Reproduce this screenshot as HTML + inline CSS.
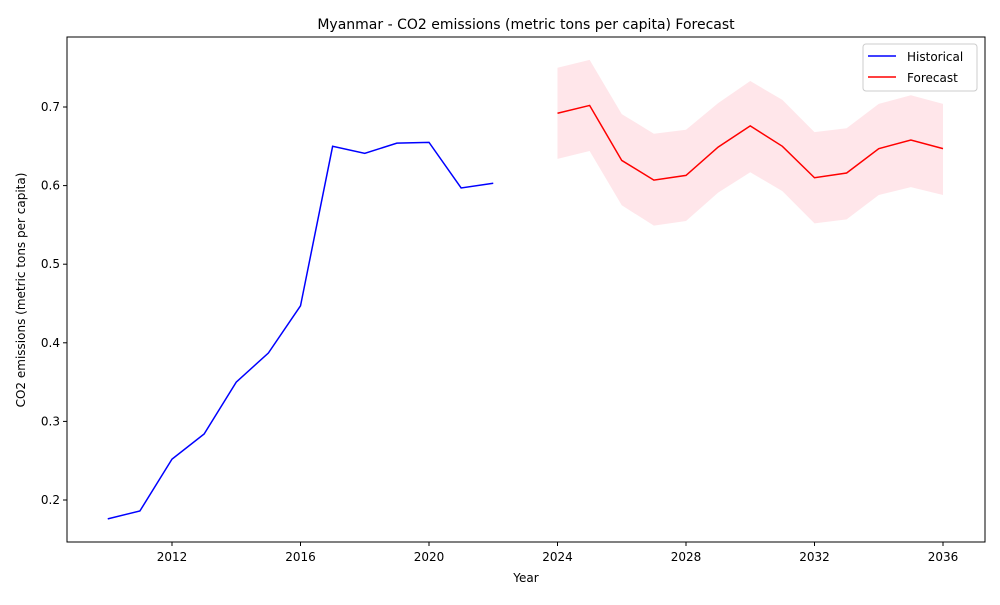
<!DOCTYPE html>
<html><head><meta charset="utf-8"><style>
body{margin:0;background:#fff;font-family:"Liberation Sans","DejaVu Sans",sans-serif}
svg text{font-family:"DejaVu Sans","Liberation Sans",sans-serif;fill:#000}
</style></head><body>
<svg id="chart" width="1000" height="600" xmlns="http://www.w3.org/2000/svg">
<rect width="1000" height="600" fill="#fff"/>
<g id="g"></g>
</svg>
<script>
const histYears=[2010,2011,2012,2013,2014,2015,2016,2017,2018,2019,2020,2021,2022];
const histValues=[0.176,0.186,0.252,0.284,0.350,0.387,0.447,0.650,0.641,0.654,0.655,0.597,0.603];
const fcYears=[2024,2025,2026,2027,2028,2029,2030,2031,2032,2033,2034,2035,2036];
const fcValues=[0.692,0.702,0.632,0.607,0.613,0.649,0.676,0.650,0.610,0.616,0.647,0.658,0.647];
const fcUpper=[0.750,0.760,0.691,0.666,0.671,0.705,0.733,0.709,0.668,0.673,0.704,0.715,0.704];
const fcLower=[0.634,0.644,0.575,0.549,0.555,0.591,0.617,0.593,0.552,0.557,0.588,0.598,0.588];
const xTicks=[2012,2016,2020,2024,2028,2032,2036];
const yTicks=[0.2,0.3,0.4,0.5,0.6,0.7];

const L=67,R=985,T=37,B=542;
const x=yr=>172+(yr-2012)*(943-172)/24;
const y=v=>500-(v-0.2)*(500-107)/0.5;
const g=document.getElementById('g');
const NS='http://www.w3.org/2000/svg';
function mk(tag,attrs,parent){const e=document.createElementNS(NS,tag);for(const k in attrs)e.setAttribute(k,attrs[k]);(parent||g).appendChild(e);return e;}

// band
let pts=fcYears.map((yr,i)=>x(yr)+','+y(fcUpper[i]));
for(let i=fcYears.length-1;i>=0;i--)pts.push(x(fcYears[i])+','+y(fcLower[i]));
const band=mk('polygon',{points:pts.join(' '),fill:'#ffc0cb',opacity:0.4});



const hl=mk('polyline',{points:histYears.map((yr,i)=>x(yr)+','+y(histValues[i])).join(' '),fill:'none',stroke:'#0000ff','stroke-width':1.5});


const fl=mk('polyline',{points:fcYears.map((yr,i)=>x(yr)+','+y(fcValues[i])).join(' '),fill:'none',stroke:'#ff0000','stroke-width':1.5});



const frame=mk('rect',{x:L,y:T,width:R-L,height:B-T,fill:'none',stroke:'#000','stroke-width':1});



xTicks.forEach(t=>{
  const tk=mk('line',{x1:x(t),x2:x(t),y1:B,y2:B+4,stroke:'#000'});
  
  
  const tx=mk('text',{x:x(t),y:B+19,'text-anchor':'middle','font-size':12});
  tx.textContent=t;
  
  
});
yTicks.forEach(t=>{
  const tk=mk('line',{x1:L-4,x2:L,y1:y(t),y2:y(t),stroke:'#000'});
  
  
  const tx=mk('text',{x:L-7,y:y(t)+4,'text-anchor':'end','font-size':12});
  tx.textContent=t.toFixed(1);
  
  
});
</script>
<svg width="1000" height="600" style="position:absolute;left:0;top:0" xmlns="http://www.w3.org/2000/svg">
<text x="526" y="29" text-anchor="middle" font-size="14">Myanmar - CO2 emissions (metric tons per capita) Forecast</text>
<text x="526" y="582" text-anchor="middle" font-size="12">Year</text>
<text x="25" y="290" text-anchor="middle" font-size="12" transform="rotate(-90 25 290)">CO2 emissions (metric tons per capita)</text>
<g>
<rect x="863" y="44" width="114" height="47" fill="#fff" stroke="#ccc" rx="3"/>
<line x1="868" y1="56" x2="896" y2="56" stroke="#0000ff" stroke-width="1.5"/>
<text x="907" y="61" font-size="12">Historical</text>
<line x1="868" y1="77" x2="896" y2="77" stroke="#ff0000" stroke-width="1.5"/>
<text x="907" y="82" font-size="12">Forecast</text>
</g>
</svg>
</body></html>
